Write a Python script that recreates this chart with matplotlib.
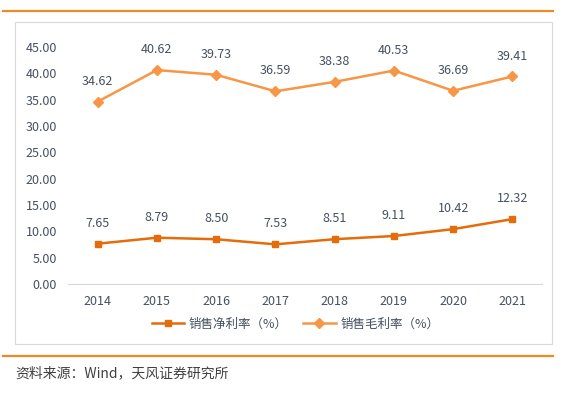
import matplotlib.pyplot as plt
from matplotlib.patches import Rectangle
from matplotlib.lines import Line2D

plt.rcParams['font.family'] = ['Noto Sans CJK SC', 'DejaVu Sans']

years = ["2014", "2015", "2016", "2017", "2018", "2019", "2020", "2021"]
net_margin = [7.65, 8.79, 8.50, 7.53, 8.51, 9.11, 10.42, 12.32]
gross_margin = [34.62, 40.62, 39.73, 36.59, 38.38, 40.53, 36.69, 39.41]
y_ticks = [0, 5, 10, 15, 20, 25, 30, 35, 40, 45]

W, H = 574, 393
fig = plt.figure(figsize=(W / 100, H / 100), dpi=100)

# frame lines and chart box (pixel coords -> figure fraction)
def fx(px):
    return px / W

def fy(py):
    return 1 - py / H

txt_color = "#465060"

fig.add_artist(Line2D([fx(3), fx(553)], [fy(11), fy(11)], color="#F08A24", lw=1.6))
fig.add_artist(Line2D([fx(3), fx(553)], [fy(356), fy(356)], color="#F08A24", lw=1.6))
fig.add_artist(Rectangle((fx(15), fy(344)), fx(552) - fx(15), fy(22) - fy(344),
                         fill=False, edgecolor="#D9D9D9", lw=0.8))
fig.text(fx(15), fy(373), "资料来源：Wind，天风证券研究所", fontsize=10,
         color="#404040", va="center", ha="left")

ax = fig.add_axes([fx(68), fy(284), fx(542) - fx(68), fy(47) - fy(284)])
x = range(len(years))
ax.plot(x, net_margin, color="#E46C0A", marker="s", markersize=5, lw=1.8,
        label="销售净利率（%）")
ax.plot(x, gross_margin, color="#F79646", marker="D", markersize=5, lw=1.8,
        label="销售毛利率（%）")

for i in x:
    ax.annotate(f"{net_margin[i]:.2f}", (i, net_margin[i]), xytext=(0, 10),
                textcoords="offset points", ha="center", va="bottom",
                fontsize=9, color=txt_color)
    ax.annotate(f"{gross_margin[i]:.2f}", (i, gross_margin[i]), xytext=(0, 10),
                textcoords="offset points", ha="center", va="bottom",
                fontsize=9, color=txt_color)

ax.set_xlim(-0.5, len(years) - 0.5)
ax.set_ylim(0, 45)
ax.set_yticks(y_ticks)
ax.set_yticklabels([f"{v:.2f}" for v in y_ticks])
ax.set_xticks(list(x))
ax.set_xticklabels(years)
ax.tick_params(axis="both", length=0, labelsize=9, colors=txt_color, pad=8)
for s in ["top", "right", "left"]:
    ax.spines[s].set_visible(False)
ax.spines["bottom"].set_color("#D9D9D9")
ax.patch.set_alpha(0)

ax.legend(loc="center", bbox_to_anchor=(0.48, -0.17), ncol=2, frameon=False,
          fontsize=9, handlelength=2.6, columnspacing=1.2, handletextpad=0.4,
          labelcolor=txt_color)

fig.savefig("out.png", dpi=100)
